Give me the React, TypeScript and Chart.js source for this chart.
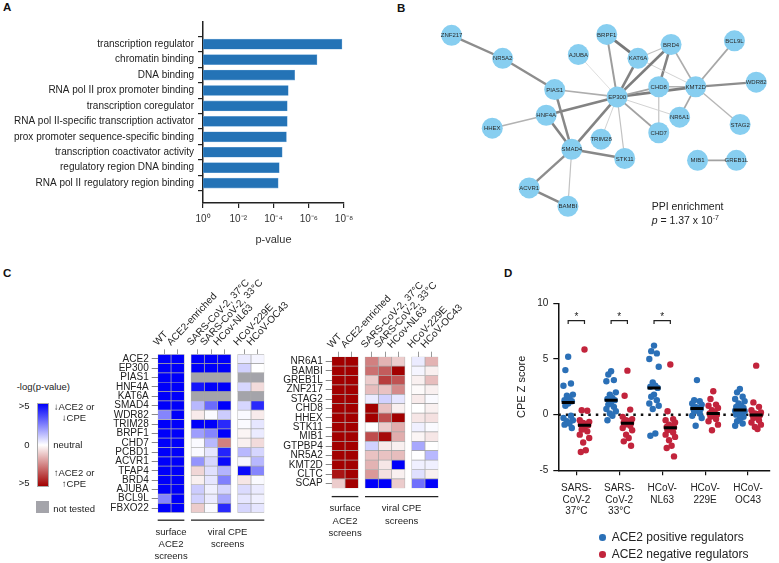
import React, { useEffect, useRef } from "react";
import { Chart, registerables } from "chart.js";

Chart.register(...registerables);

const FONT = "'Liberation Sans', Arial, Helvetica, sans-serif";
Chart.defaults.font.family = FONT;
Chart.defaults.color = "#222";

// ---------------- Panel A data ----------------
const goTerms = [
  "transcription regulator",
  "chromatin binding",
  "DNA binding",
  "RNA pol II prox promoter binding",
  "transcription coregulator",
  "RNA pol II-specific transcription activator",
  "prox promoter sequence-specific binding",
  "transcription coactivator activity",
  "regulatory region DNA binding",
  "RNA pol II regulatory region binding",
];
const goPValues = [1.3e-8, 3.4e-7, 6.3e-6, 1.45e-5, 1.65e-5, 1.65e-5, 1.85e-5, 3.2e-5, 4.7e-5, 5.4e-5];
const goTickValues = [1, 1e-2, 1e-4, 1e-6, 1e-8];

// ---------------- Panel B data ----------------
const nodeNames = ["ZNF217", "NR5A2", "AJUBA", "BRPF1", "BRD4", "KAT6A", "BCL9L", "WDR82", "PIAS1", "EP300", "CHD8", "KMT2D", "HNF4A", "NR6A1", "HHEX", "CHD7", "STAG2", "TRIM28", "SMAD4", "STK11", "MIB1", "GREB1L", "ACVR1", "BAMBI"];
const nodeX = [54, 108, 188, 218, 286, 251, 353, 376, 163, 229, 273, 312, 154, 295, 97, 273, 359, 212, 181, 237, 314, 355, 136, 177];
const nodeY = [27, 52, 48, 26, 37, 52, 33, 78, 86, 94, 83, 83, 114, 116, 128, 133, 124, 140, 151, 161, 163, 163, 193, 213];
const edgeFrom = ["ZNF217", "NR5A2", "PIAS1", "PIAS1", "HNF4A", "HNF4A", "HHEX", "EP300", "EP300", "EP300", "EP300", "EP300", "EP300", "EP300", "EP300", "EP300", "EP300", "EP300", "BRPF1", "KAT6A", "KAT6A", "BRD4", "BRD4", "CHD8", "CHD8", "KMT2D", "KMT2D", "KMT2D", "KMT2D", "SMAD4", "SMAD4", "SMAD4", "ACVR1", "MIB1"];
const edgeTo = ["NR5A2", "PIAS1", "EP300", "SMAD4", "EP300", "SMAD4", "HNF4A", "SMAD4", "AJUBA", "BRPF1", "KAT6A", "BRD4", "CHD8", "KMT2D", "NR6A1", "CHD7", "TRIM28", "STK11", "KAT6A", "BRD4", "KMT2D", "CHD8", "KMT2D", "KMT2D", "CHD7", "NR6A1", "WDR82", "BCL9L", "STAG2", "STK11", "ACVR1", "BAMBI", "BAMBI", "GREB1L"];
const edgeScore = [0.8, 0.8, 0.5, 0.85, 0.9, 0.9, 0.45, 0.9, 0.12, 0.65, 0.9, 0.95, 0.6, 0.95, 0.18, 0.6, 0.18, 0.3, 1.0, 0.3, 0.18, 0.9, 0.5, 0.45, 0.3, 0.55, 0.8, 0.55, 0.4, 0.85, 0.8, 0.3, 0.85, 0.6];

// ---------------- Panel C data ----------------
const hmColumns = ["WT", "ACE2-enriched", "SARS-CoV-2, 37°C", "SARS-CoV-2, 33°C", "HCov-NL63", "HCoV-229E", "HCoV-OC43"];
const hmColumnGroups = [2, 3, 2];
const hmScreenLabels = [["surface", "ACE2", "screens"], ["viral CPE", "screens"]];
const hmScreenSpans = [[0, 1], [2, 6]];
const hm1Genes = ["ACE2", "EP300", "PIAS1", "HNF4A", "KAT6A", "SMAD4", "WDR82", "TRIM28", "BRPF1", "CHD7", "PCBD1", "ACVR1", "TFAP4", "BRD4", "AJUBA", "BCL9L", "FBXO22"];
// signed -log(p): + = decreases ACE2/CPE (blue), - = increases (red), null = not tested
const hm1Scores: (number | null)[][] = [
  [5, 5, 5, 5, 5, 0.4, 0.2],
  [5, 5, 5, 5, 5, 0.9, 0],
  [5, 5, null, null, null, null, null],
  [5, 5, 4.6, 5, 5, 0.8, -0.7],
  [5, 5, null, null, null, null, null],
  [5, 5, 1.4, 2.9, 5, 0.8, 4.2],
  [2.4, 5, -0.4, 0.1, 1, 0.1, -0.4],
  [5, 5, 5, 5, 4.2, 0.1, 0.5],
  [5, 5, 1.9, 2.4, 5, -0.2, 0.4],
  [5, 5, 0.1, 1.4, -2.5, -0.3, -0.7],
  [5, 5, 0.1, 0.5, 4.3, 1.4, 0.8],
  [5, 5, 2.1, 0.8, 4.8, 0.2, 1.4],
  [5, 5, -0.8, 0.6, 1.5, 4.8, 2.4],
  [5, 5, -0.3, 0.5, 2.5, -0.5, 0.1],
  [5, 5, 1, 0.3, 0.8, 0.7, 0.4],
  [2.4, 5, 0.9, 0.4, 1.7, 0.5, 0.3],
  [5, 5, -1, 0.1, 4.2, 0.8, 0.5],
];
const hm2Genes = ["NR6A1", "BAMBI", "GREB1L", "ZNF217", "STAG2", "CHD8", "HHEX", "STK11", "MIB1", "GTPBP4", "NR5A2", "KMT2D", "CLTC", "SCAP"];
const hm2Scores: (number | null)[][] = [
  [-5, -5, -2.5, -1.5, -1, 0.4, -1.5],
  [-5, -5, -2.8, -3.2, -5, 0.2, -0.3],
  [-5, -5, -1, -3.8, -3.4, -0.3, -1.3],
  [-5, -5, -1.3, -1.2, -2.3, -0.1, -0.3],
  [-5, -5, 0.4, 0.9, 0.5, -0.4, 0.1],
  [-5, -5, -5, -1.2, -0.3, 0, -0.3],
  [-5, -5, -5, -3.5, -5, -0.5, -0.6],
  [-5, -5, 0, -1, -1.6, 0.3, 0.1],
  [-5, -5, -3.5, -4.8, -1.6, -0.2, -0.5],
  [-5, -5, 0.9, -0.4, -0.3, 1.7, 0],
  [-5, -5, -1.2, -1.2, -1.3, 0, 1.4],
  [-5, -5, -1.5, -0.5, 5, 0.3, 0.3],
  [-4.6, -5, -2, -0.6, -0.3, 0.6, -0.3],
  [-1, -5, 5, 5, -1, 2.8, 5],
];

// ---------------- Panel D data ----------------
const zCategories = [["SARS-", "CoV-2", "37°C"], ["SARS-", "CoV-2", "33°C"], ["HCoV-", "NL63"], ["HCoV-", "229E"], ["HCoV-", "OC43"]];
const posS37 = [5.2, 4.0, 2.8, 2.6, 1.8, 1.7, 1.5, 1.3, 1.2, 1.0, 0.8, -0.1, -0.3, -0.5, -0.6, -0.8, -0.9, -1.2];
const negS37 = [5.85, 0.4, 0.35, -0.5, -0.65, -0.75, -0.85, -0.9, -0.95, -1.2, -1.35, -1.5, -1.8, -2.1, -2.5, -3.2, -3.35];
const posS33 = [3.9, 3.6, 3.1, 3.0, 2.0, 1.8, 1.5, 1.4, 1.3, 1.1, 0.9, 0.7, 0.5, 0.3, 0.1, -0.1, -0.5];
const negS33 = [3.95, 1.7, 0.45, -0.2, -0.4, -0.5, -0.6, -0.7, -0.75, -0.8, -0.9, -1.0, -1.2, -1.4, -1.8, -2.1, -2.4, -2.8];
const posNL63 = [6.2, 5.7, 5.5, 5.0, 4.3, 2.9, 2.6, 2.5, 2.4, 1.8, 1.6, 1.3, 1.0, 0.8, 0.5, -1.7, -1.9];
const negNL63 = [4.5, 0.3, -0.4, -0.5, -0.7, -0.9, -1.0, -1.1, -1.15, -1.2, -1.4, -1.6, -1.8, -2.0, -2.3, -2.8, -3.0, -3.75];
const pos229E = [3.1, 1.3, 1.2, 1.0, 0.9, 0.7, 0.6, 0.55, 0.5, 0.4, 0.3, 0.1, -0.1, -0.3, -1.0];
const neg229E = [2.1, 1.4, 0.9, 0.8, 0.6, 0.4, 0.2, 0.1, 0.0, -0.1, -0.2, -0.4, -0.6, -0.9, -1.4];
const posOC43 = [2.3, 2.0, 1.6, 1.4, 1.2, 1.0, 0.8, 0.7, 0.6, 0.5, 0.45, 0.4, 0.35, 0.3, 0.2, 0.1, 0.0, -0.2, -0.4, -0.6, -0.8, -1.0];
const negOC43 = [4.4, 1.1, 0.7, 0.4, 0.2, 0.1, 0.05, 0.0, -0.05, -0.2, -0.3, -0.5, -0.7, -0.9, -1.1, -1.3];
const sigCategories = [0, 1, 2];

// ---------------- helpers ----------------
const SUP: Record<string, string> = { "-": "⁻", "0": "⁰", "1": "¹", "2": "²", "3": "³", "4": "⁴", "5": "⁵", "6": "⁶", "7": "⁷", "8": "⁸", "9": "⁹" };
const supText = (n: number) => String(n).split("").map((c) => SUP[c] || c).join("");

function heatColor(s: number | null): string {
  if (s === null) return "#a4a4aa";
  const t = Math.min(Math.abs(s), 5) / 5;
  if (s >= 0) {
    const r = Math.round(255 * (1 - t));
    return `rgb(${r},${r},${Math.round(255 - 5 * t)})`;
  }
  const r = Math.round(255 - (255 - 162) * t);
  const g = Math.round(255 * (1 - t));
  return `rgb(${r},${g},${g})`;
}

function median(a: number[]): number {
  const s = [...a].sort((p, q) => p - q);
  const m = Math.floor(s.length / 2);
  return s.length % 2 ? s[m] : (s[m - 1] + s[m]) / 2;
}

const JITTER = [0, -0.065, 0.065, -0.11, 0.11, -0.03, 0.03, -0.085, 0.085];

function ChartCanvas(props: { left: number; top: number; width: number; height: number; make: () => any }) {
  const ref = useRef<HTMLCanvasElement>(null);
  useEffect(() => {
    const chart = new Chart(ref.current as HTMLCanvasElement, props.make());
    return () => chart.destroy();
  }, []);
  return (
    <canvas
      ref={ref}
      width={props.width}
      height={props.height}
      style={{ position: "absolute", left: props.left, top: props.top, width: props.width, height: props.height }}
    />
  );
}

// ---------------- Panel A ----------------
function configA() {
  return {
    type: "bar",
    data: {
      datasets: [
        {
          data: goTerms.map((t, i) => ({ x: [1, goPValues[i]], y: i })),
          backgroundColor: "#2473b6",
          borderColor: "#6fa6d6",
          borderWidth: 0.6,
          borderSkipped: false,
          barThickness: 10,
        },
      ],
    },
    options: {
      animation: false,
      responsive: false,
      indexAxis: "y",
      layout: { padding: { top: 22, right: 46, left: 0, bottom: 0 } },
      plugins: { legend: { display: false }, tooltip: { enabled: false } },
      scales: {
        x: {
          type: "logarithmic",
          reverse: true,
          min: 1e-8,
          max: 1,
          afterBuildTicks: (s: any) => {
            s.ticks = goTickValues.map((v) => ({ value: v }));
          },
          afterFit: (s: any) => {
            s.height = 52;
          },
          ticks: {
            callback: (v: number) => "10" + supText(Math.round(Math.log10(v))),
            font: { size: 10 },
            padding: 5,
            color: "#333",
            autoSkip: false,
            maxRotation: 0,
          },
          grid: { drawOnChartArea: false, drawTicks: true, tickLength: 5, color: "#222", lineWidth: 1.2 },
          border: { display: true, color: "#222", width: 1.5 },
          title: { display: true, text: "p-value", font: { size: 11 }, color: "#333", padding: { top: 4, bottom: 8 } },
        },
        y: {
          type: "linear",
          reverse: true,
          min: -0.85,
          max: 9.7,
          afterBuildTicks: (s: any) => {
            s.ticks = goTerms.map((_, i) => ({ value: i }));
          },
          afterFit: (s: any) => {
            s.width = 203;
          },
          ticks: { callback: (v: number) => goTerms[v], font: { size: 10 }, padding: 4, color: "#222", autoSkip: false },
          grid: { drawOnChartArea: false, drawTicks: true, tickLength: 5, color: "#222", lineWidth: 1.2 },
          border: { display: true, color: "#222", width: 1.5 },
        },
      },
    },
  };
}

// ---------------- Panel B ----------------
function configB() {
  const idx = (n: string) => nodeNames.indexOf(n);
  const edgeSets = edgeFrom.map((a, k) => {
    const w = edgeScore[k];
    const g = Math.round(225 - 105 * w);
    return {
      data: [
        { x: nodeX[idx(a)], y: nodeY[idx(a)] },
        { x: nodeX[idx(edgeTo[k])], y: nodeY[idx(edgeTo[k])] },
      ],
      showLine: true,
      borderColor: `rgb(${g},${g},${g})`,
      borderWidth: 0.5 + 2.3 * w,
      pointRadius: 0,
      order: 1,
    };
  });
  const labelPlugin = {
    id: "nodeLabels",
    afterDatasetsDraw(chart: any) {
      const meta = chart.getDatasetMeta(0);
      const ctx = chart.ctx;
      ctx.save();
      ctx.font = `6px ${FONT}`;
      ctx.fillStyle = "#2a2a2a";
      ctx.textAlign = "center";
      ctx.textBaseline = "middle";
      meta.data.forEach((pt: any, i: number) => ctx.fillText(nodeNames[i], pt.x, pt.y + 0.5));
      ctx.restore();
    },
  };
  return {
    type: "scatter",
    data: {
      datasets: [
        {
          data: nodeNames.map((n, i) => ({ x: nodeX[i], y: nodeY[i] })),
          backgroundColor: "rgb(135,206,240)",
          borderWidth: 0,
          pointRadius: 10.5,
          order: 0,
        },
        ...edgeSets,
      ],
    },
    options: {
      animation: false,
      responsive: false,
      layout: { padding: 0 },
      plugins: { legend: { display: false }, tooltip: { enabled: false } },
      scales: {
        x: { type: "linear", min: 0, max: 389, display: false },
        y: { type: "linear", min: 0, max: 260, reverse: true, display: false },
      },
    },
    plugins: [labelPlugin],
  };
}

// ---------------- Panel C ----------------
const HM_GAP = 0.5;
function columnStarts(): number[] {
  const starts: number[] = [];
  let pos = 0;
  hmColumnGroups.forEach((n, g) => {
    for (let k = 0; k < n; k++) starts.push(pos + k);
    pos += n + (g < hmColumnGroups.length - 1 ? HM_GAP : 0);
  });
  return starts;
}

function configHeatmap(genes: string[], scores: (number | null)[][], box: { yWidth: number; xHeight: number; right: number; bottom: number; bracketGap: number }) {
  const starts = columnStarts();
  const xMax = starts[starts.length - 1] + 1;
  const datasets = hmColumns.map((c, j) => ({
    data: genes.map((g, i) => ({ x: [starts[j], starts[j] + 1], y: g })),
    backgroundColor: genes.map((g, i) => heatColor(scores[i][j])),
    borderColor: "rgba(150,150,150,0.75)",
    borderWidth: 0.7,
    borderSkipped: false,
    grouped: false,
    barPercentage: 1,
    categoryPercentage: 1,
  }));
  const bracketPlugin = {
    id: "screenBrackets",
    afterDraw(chart: any) {
      const { ctx, chartArea } = chart;
      const x = chart.scales.x;
      const y0 = chartArea.bottom + box.bracketGap;
      ctx.save();
      ctx.strokeStyle = "#222";
      ctx.lineWidth = 1.3;
      ctx.fillStyle = "#222";
      ctx.font = `9.5px ${FONT}`;
      ctx.textAlign = "center";
      ctx.textBaseline = "middle";
      hmScreenSpans.forEach((sp, g) => {
        const xa = x.getPixelForValue(starts[sp[0]]);
        const xb = x.getPixelForValue(starts[sp[1]] + 1);
        ctx.beginPath();
        ctx.moveTo(xa, y0);
        ctx.lineTo(xb, y0);
        ctx.stroke();
        hmScreenLabels[g].forEach((t, k) => ctx.fillText(t, (xa + xb) / 2, y0 + 12 + k * 12.3));
      });
      ctx.restore();
    },
  };
  return {
    type: "bar",
    data: { labels: genes, datasets },
    options: {
      animation: false,
      responsive: false,
      indexAxis: "y",
      layout: { padding: { left: 0, top: 0, right: box.right, bottom: box.bottom } },
      plugins: { legend: { display: false }, tooltip: { enabled: false } },
      scales: {
        x: {
          type: "linear",
          position: "top",
          min: 0,
          max: xMax,
          afterBuildTicks: (s: any) => {
            s.ticks = starts.map((v) => ({ value: v + 0.5 }));
          },
          afterFit: (s: any) => {
            s.height = box.xHeight;
          },
          ticks: {
            callback: (v: number, i: number) => hmColumns[i],
            autoSkip: false,
            minRotation: 47,
            maxRotation: 47,
            padding: 1,
            font: { size: 10 },
            color: "#222",
          },
          grid: { drawOnChartArea: false, drawTicks: true, tickLength: 5, color: "#999" },
          border: { display: false },
        },
        y: {
          type: "category",
          afterFit: (s: any) => {
            s.width = box.yWidth;
          },
          ticks: { font: { size: 10 }, color: "#222", padding: 3, autoSkip: false },
          grid: { drawOnChartArea: false, drawTicks: true, tickLength: 6, color: "#888", offset: false },
          border: { display: false },
        },
      },
    },
    plugins: [bracketPlugin],
  };
}

// ---------------- Panel D ----------------
function configD() {
  const groups = [
    [posS37, negS37],
    [posS33, negS33],
    [posNL63, negNL63],
    [pos229E, neg229E],
    [posOC43, negOC43],
  ];
  const side = 0.19;
  const pts = (which: number, dir: number) =>
    groups.flatMap((g, c) => g[which].map((v, i) => ({ x: c + dir * side + JITTER[i % JITTER.length], y: v })));
  const meds = (which: number, dir: number) => groups.map((g, c) => ({ x: c + dir * side, y: median(g[which]) }));
  const brackets = sigCategories.map((c) => ({
    data: [
      { x: c - side, y: 8.15 },
      { x: c - side, y: 8.45 },
      { x: c + side, y: 8.45 },
      { x: c + side, y: 8.15 },
    ],
    showLine: true,
    borderColor: "#222",
    borderWidth: 1.2,
    pointRadius: 0,
    order: 3,
  }));
  const starPlugin = {
    id: "stars",
    afterDatasetsDraw(chart: any) {
      const { ctx } = chart;
      const x = chart.scales.x;
      const y = chart.scales.y;
      ctx.save();
      ctx.font = `10px ${FONT}`;
      ctx.fillStyle = "#222";
      ctx.textAlign = "center";
      ctx.textBaseline = "middle";
      sigCategories.forEach((c) => ctx.fillText("*", x.getPixelForValue(c), y.getPixelForValue(8.75)));
      ctx.restore();
    },
  };
  return {
    type: "scatter",
    data: {
      datasets: [
        { data: meds(0, -1), pointStyle: "line", pointRadius: 6.5, pointBorderWidth: 3, pointBorderColor: "#000", borderColor: "#000", borderWidth: 3, order: 0 },
        { data: meds(1, 1), pointStyle: "line", pointRadius: 6.5, pointBorderWidth: 3, pointBorderColor: "#000", borderColor: "#000", borderWidth: 3, order: 0 },
        { label: "ACE2 positive regulators", data: pts(0, -1), pointRadius: 3.2, backgroundColor: "#2b70b7", pointBorderWidth: 0, borderWidth: 0, order: 1 },
        { label: "ACE2 negative regulators", data: pts(1, 1), pointRadius: 3.2, backgroundColor: "#c2243c", pointBorderWidth: 0, borderWidth: 0, order: 1 },
        {
          data: [
            { x: -0.42, y: 0 },
            { x: 4.5, y: 0 },
          ],
          showLine: true,
          borderColor: "#111",
          borderWidth: 2.5,
          borderDash: [2.5, 5],
          pointRadius: 0,
          order: 2,
        },
        ...brackets,
      ],
    },
    options: {
      animation: false,
      responsive: false,
      layout: { padding: { left: 0, top: 13.3, right: 4, bottom: 0 } },
      plugins: { legend: { display: false }, tooltip: { enabled: false } },
      scales: {
        x: {
          type: "linear",
          min: -0.42,
          max: 4.5,
          afterBuildTicks: (s: any) => {
            s.ticks = zCategories.map((_, i) => ({ value: i }));
          },
          afterFit: (s: any) => {
            s.height = 92.7;
          },
          ticks: {
            callback: (v: number, i: number) => zCategories[i],
            font: { size: 10, lineHeight: 1.17 },
            color: "#222",
            padding: 7,
            autoSkip: false,
            maxRotation: 0,
          },
          grid: { drawOnChartArea: false, drawTicks: true, tickLength: 5, color: "#111", lineWidth: 1.2 },
          border: { display: true, color: "#111", width: 1.5 },
        },
        y: {
          type: "linear",
          min: -5,
          max: 10,
          afterBuildTicks: (s: any) => {
            s.ticks = [-5, 0, 5, 10].map((v) => ({ value: v }));
          },
          afterFit: (s: any) => {
            s.width = 58.3;
          },
          ticks: { font: { size: 10 }, color: "#222", padding: 5 },
          grid: { drawOnChartArea: false, drawTicks: true, tickLength: 5, color: "#111", lineWidth: 1.2 },
          border: { display: true, color: "#111", width: 1.5 },
          title: { display: true, text: "CPE Z score", font: { size: 11 }, color: "#222", padding: { top: 15, bottom: 0 } },
        },
      },
    },
    plugins: [starPlugin],
  };
}

// ---------------- Layout ----------------
const abs = (left: number, top: number, extra: React.CSSProperties = {}): React.CSSProperties => ({
  position: "absolute",
  left,
  top,
  whiteSpace: "nowrap",
  lineHeight: 1,
  ...extra,
});

export default function App() {
  const letter = { fontWeight: 700, fontSize: 11.5, color: "#111" } as React.CSSProperties;
  const small = { fontSize: 9.5, color: "#222" } as React.CSSProperties;
  return (
    <div style={{ position: "absolute", left: 0, top: 0, width: 779, height: 563, background: "#fff", overflow: "hidden", fontFamily: FONT }}>
      <div style={abs(3, 2, letter)}>A</div>
      <div style={abs(397, 2.5, letter)}>B</div>
      <div style={abs(3, 267.5, letter)}>C</div>
      <div style={abs(504, 267.5, letter)}>D</div>

      <ChartCanvas left={0} top={0} width={390} height={255} make={configA} />
      <ChartCanvas left={390} top={0} width={389} height={260} make={configB} />
      <div style={abs(651.7, 200, { fontSize: 10.5, lineHeight: "12px", color: "#222" })}>
        PPI enrichment
        <br />
        <i>p</i> = 1.37 x 10<sup style={{ fontSize: 7, verticalAlign: "4px" }}>-7</sup>
      </div>

      <ChartCanvas
        left={90}
        top={262}
        width={220}
        height={300}
        make={() => configHeatmap(hm1Genes, hm1Scores, { yWidth: 67.7, xHeight: 92.3, right: 45.7, bottom: 49.3, bracketGap: 7.5 })}
      />
      <ChartCanvas
        left={270}
        top={262}
        width={210}
        height={300}
        make={() => configHeatmap(hm2Genes, hm2Scores, { yWidth: 61.7, xHeight: 94.7, right: 41.7, bottom: 73.7, bracketGap: 8.3 })}
      />

      {/* colour key */}
      <div style={abs(16.7, 381.5, small)}>-log(p-value)</div>
      <div
        style={abs(36.7, 403.3, {
          width: 12.3,
          height: 84,
          boxSizing: "border-box",
          border: "1px solid #aaa",
          background: "linear-gradient(to bottom, rgb(0,0,250) 0%, #ffffff 50%, rgb(162,0,0) 100%)",
        })}
      />
      <div style={abs(0, 401.3, { ...small, width: 29.5, textAlign: "right" })}>&gt;5</div>
      <div style={abs(0, 440.3, { ...small, width: 29.5, textAlign: "right" })}>0</div>
      <div style={abs(0, 478.3, { ...small, width: 29.5, textAlign: "right" })}>&gt;5</div>
      <div style={abs(44, 401, { ...small, width: 60, textAlign: "center", lineHeight: "11px" })}>
        ↓ACE2 or
        <br />
        ↓CPE
      </div>
      <div style={abs(53.3, 440.3, small)}>neutral</div>
      <div style={abs(44, 466.5, { ...small, width: 60, textAlign: "center", lineHeight: "11px" })}>
        ↑ACE2 or
        <br />
        ↑CPE
      </div>
      <div style={abs(35.7, 501, { width: 13.3, height: 12.3, background: "#a4a4aa" })} />
      <div style={abs(53.3, 503.5, small)}>not tested</div>

      <ChartCanvas left={500} top={290} width={279} height={273} make={configD} />
      <div style={abs(599.4, 534, { width: 6.6, height: 6.6, borderRadius: "50%", background: "#2b70b7" })} />
      <div style={abs(611.7, 531, { fontSize: 12, color: "#222" })}>ACE2 positive regulators</div>
      <div style={abs(599.4, 551, { width: 6.6, height: 6.6, borderRadius: "50%", background: "#c2243c" })} />
      <div style={abs(611.7, 548, { fontSize: 12, color: "#222" })}>ACE2 negative regulators</div>
    </div>
  );
}
